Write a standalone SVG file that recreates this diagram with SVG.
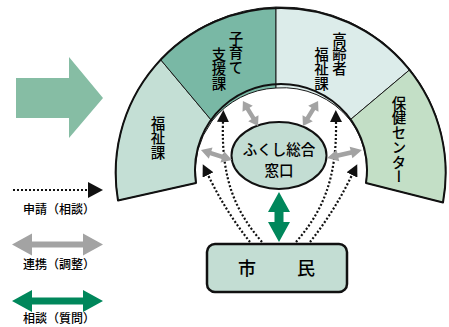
<svg xmlns="http://www.w3.org/2000/svg" width="449" height="327" viewBox="0 0 449 327">
<style>
text{font-family:"Noto Sans CJK JP","Noto Sans",sans-serif;fill:#000;font-weight:500}
.vt{writing-mode:vertical-rl;font-size:14.5px;letter-spacing:0.2px}
.sec{stroke:#1a1a1a;stroke-width:1}
.dot{fill:none;stroke:#111;stroke-width:2.2;stroke-dasharray:2 2}
.gray{fill:#a3a3a3}
.green{fill:#00875b}
.lg{font-size:12px;text-anchor:middle}
</style>
<defs>
<marker id="ah" markerUnits="userSpaceOnUse" markerWidth="12" markerHeight="12" viewBox="0 0 10 10" refX="0" refY="5" orient="auto">
<path d="M0,0 L10,5 L0,10 Z" fill="#111"/>
</marker>
<path id="garr" d="M-16,0 L-6,-6 L-6,-2.2 L6,-2.2 L6,-6 L16,0 L6,6 L6,2.2 L-6,2.2 L-6,6 Z"/>
</defs>

<g id="bigArrow">
<polygon points="16,78 69,78 69,57 103,98 69,138 69,118 16,118" fill="#86bda4"/>
</g>

<g id="fan">
<g id="sec-fukushi">
<path class="sec" d="M196,183 L118,200.5 A165,165 0 0 1 160.5,59.5 L212,121 A86,86 0 0 0 196,183 Z" fill="#c4dfd5"/>
<text class="vt" x="158" y="116">福祉課</text>
</g>
<g id="sec-kosodate">
<path class="sec" d="M212,121 L160.5,59.5 A165,165 0 0 1 276,7 L276,88 A86,86 0 0 0 212,121 Z" fill="#79b8a5"/>
<text class="vt" x="236" y="31">子育て</text>
<text class="vt" x="219" y="47">支援課</text>
</g>
<g id="sec-koureisha">
<path class="sec" d="M276,88 L276,7 A165,165 0 0 1 410,69.5 L350,120 A86,86 0 0 0 276,88 Z" fill="#dcecea"/>
<text class="vt" x="339.5" y="32">高齢者</text>
<text class="vt" x="321.5" y="47">福祉課</text>
</g>
<g id="sec-hoken">
<path class="sec" d="M350,120 L410,69.5 A165,165 0 0 1 443,202.5 L366,183 A86,86 0 0 0 350,120 Z" fill="#c3dfc6"/>
<text class="vt" x="399" y="96">保健センター</text>
</g>
<path d="M118,200.5 A165,165 0 1 1 443,202.5 L366,183 A86,86 0 1 0 196,183 Z" fill="none" stroke="#111" stroke-width="2" stroke-linejoin="round"/>
</g>

<g id="madoguchi">
<ellipse cx="279" cy="155.5" rx="47.5" ry="33.5" fill="#c3ddd3" stroke="#111" stroke-width="2"/>
<text x="279" y="155" font-size="14.5" text-anchor="middle">ふくし総合</text>
<text x="279" y="176" font-size="14.5" text-anchor="middle">窓口</text>
</g>

<g id="shimin">
<rect x="207" y="244" width="140" height="48" rx="8" fill="#c3ddd3" stroke="#111" stroke-width="2.5"/>
<text font-size="18" text-anchor="middle" y="275"><tspan x="247">市</tspan><tspan x="306">民</tspan></text>
</g>

<g id="connectors">
<path class="dot" d="M250,242 Q226,212 208,175" marker-end="url(#ah)"/>
<path class="dot" d="M262,242 C236,212 221,180 223,122" marker-end="url(#ah)"/>
<path class="dot" d="M296,242 C322,212 337,180 336,122" marker-end="url(#ah)"/>
<path class="dot" d="M310,242 Q334,212 352,175" marker-end="url(#ah)"/>
<use href="#garr" class="gray" transform="translate(250.5,113.5) rotate(59) scale(0.92,1)"/>
<use href="#garr" class="gray" transform="translate(310.5,113.5) rotate(121) scale(0.92,1)"/>
<use href="#garr" class="gray" transform="translate(216.5,155) rotate(18) scale(1.02,1)"/>
<use href="#garr" class="gray" transform="translate(344.5,154) rotate(-13) scale(1.12,1)"/>
<polygon class="green" points="279,192 290,212 283.5,212 283.5,222 290,222 279,242 268,222 274.5,222 274.5,212 268,212"/>
</g>

<g id="legend">
<line x1="13" y1="190" x2="88" y2="190" class="dot"/>
<polygon points="88,182 103,190 88,198" fill="#111"/>
<text class="lg" x="59" y="214">申請（相談）</text>
<polygon class="gray" points="12,244.5 32,233.5 32,241.5 83,241.5 83,233.5 103,244.5 83,255.5 83,247.5 32,247.5 32,255.5"/>
<text class="lg" x="59" y="269">連携（調整）</text>
<polygon class="green" points="12,301 32,290 32,297.5 83,297.5 83,290 103,301 83,312 83,304.5 32,304.5 32,312"/>
<text class="lg" x="59" y="323">相談（質問）</text>
</g>
</svg>
